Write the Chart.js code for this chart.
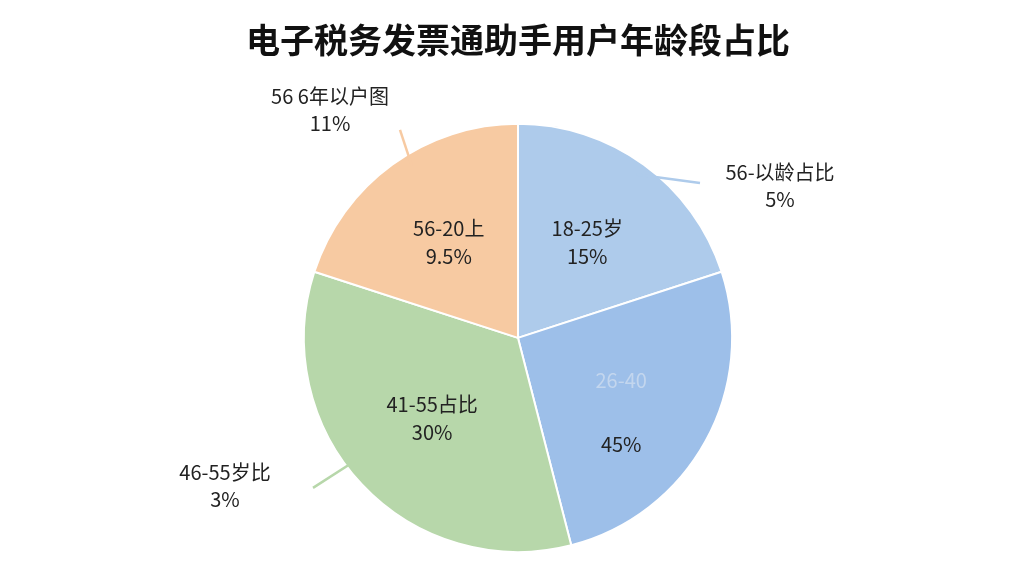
<!DOCTYPE html>
<html><head><meta charset="utf-8">
<script src="https://cdn.jsdelivr.net/npm/chart.js@4"></script>
<style>body{margin:0;background:#fff}</style>
</head><body>
<canvas id="c" width="1024" height="576"></canvas>
<script>
// Données
const categories = ['18-25岁', '26-40', '41-55占比', '56-20上'];
const shares = [20, 26, 34, 20];
const shareLabels = ['15%', '45%', '30%', '9.5%'];
const colors = ['#aecbeb', '#9dbfe9', '#b7d7aa', '#f7caa2'];
// Étiquettes extérieures : [part, texte, pourcentage, fraction de l'arc, fin du trait (dx,dy), texte (dx,dy)] relatifs au centre
const callouts = [
  [3, '56 6年以户图', '11%', 0.56, -118, -208, -188, -228],
  [0, '56-以龄占比', '5%', 0.5, 182, -155, 262, -152],
  [2, '46-55岁比', '3%', 0.55, -205, 150, -293, 148]
];

const labelPlugin = {
  id: 'labels',
  afterDatasetsDraw(chart) {
    const ctx = chart.ctx;
    const arcs = chart.getDatasetMeta(0).data;
    ctx.save();
    ctx.textAlign = 'center';
    ctx.textBaseline = 'middle';
    ctx.font = '20px "Noto Sans CJK SC", sans-serif';
    arcs.forEach((a, i) => {
      const mid = (a.startAngle + a.endAngle) / 2;
      const r = a.outerRadius * 0.55;
      const x = a.x + Math.cos(mid) * r, y = a.y + Math.sin(mid) * r;
      ctx.fillStyle = i === 1 ? '#c3d6ee' : '#222';
      ctx.fillText(categories[i], x, y - 14);
      ctx.fillStyle = '#222';
      ctx.fillText(shareLabels[i], x, i === 1 ? y + 50 : y + 14);
    });
    callouts.forEach(([i, t, p, f, lx, ly, tx, ty]) => {
      const a = arcs[i];
      const ang = a.startAngle + (a.endAngle - a.startAngle) * f;
      const x0 = a.x + Math.cos(ang) * (a.outerRadius - 12);
      const y0 = a.y + Math.sin(ang) * (a.outerRadius - 12);
      ctx.strokeStyle = colors[i];
      ctx.lineWidth = 2.5;
      ctx.beginPath(); ctx.moveTo(x0, y0); ctx.lineTo(a.x + lx, a.y + ly); ctx.stroke();
      ctx.fillStyle = '#222';
      ctx.fillText(t, a.x + tx, a.y + ty - 13);
      ctx.fillText(p, a.x + tx, a.y + ty + 14);
    });
    ctx.restore();
  }
};

new Chart(document.getElementById('c'), {
  type: 'pie',
  data: {
    labels: categories,
    datasets: [{ data: shares, backgroundColor: colors, borderColor: '#fff', borderWidth: 2 }]
  },
  options: {
    responsive: false,
    animation: false,
    layout: { padding: { top: 0, bottom: 23, left: 12, right: 0 } },
    plugins: {
      legend: { display: false },
      tooltip: { enabled: false },
      title: {
        display: true,
        text: '电子税务发票通助手用户年龄段占比',
        color: '#111',
        font: { size: 34, weight: 'bold', family: '"Noto Sans CJK SC", sans-serif' },
        padding: { top: 20, bottom: 62 }
      }
    }
  },
  plugins: [labelPlugin]
});
</script>
</body></html>
